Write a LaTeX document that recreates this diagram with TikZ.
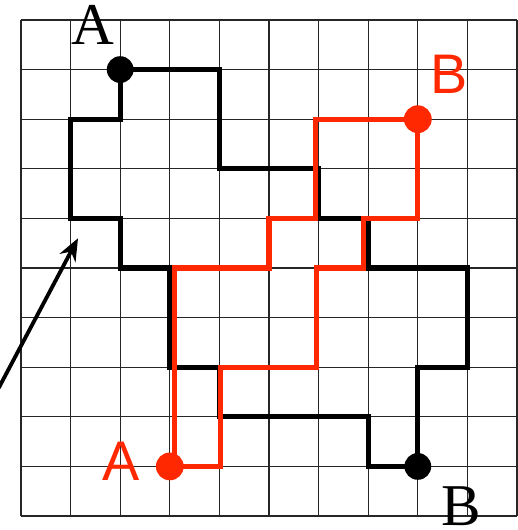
\documentclass[tikz,border=0pt]{standalone}
\usepackage{fontspec}
\setmainfont{Liberation Serif}
\newfontfamily\labsans{Liberation Sans}
\definecolor{pathred}{RGB}{255,40,0}
\usetikzlibrary{arrows.meta}
\tikzset{
  gridline/.style={draw=black!85, line width=0.7pt},
  blackloop/.style={draw=black, line width=2.9pt, line join=miter},
  redloop/.style={draw=pathred, line width=2.9pt, line join=miter},
  blackdot/.style={circle, fill=black, inner sep=0pt, minimum size=0.54cm},
  reddot/.style={circle, fill=pathred, inner sep=0pt, minimum size=0.56cm},
  serlabel/.style={font=\fontsize{34}{34}\selectfont, text=black, inner sep=0pt},
  sanslabel/.style={font=\labsans\fontsize{32}{32}\selectfont, text=pathred, inner sep=0pt},
  pointer/.style={draw=black, line width=2.2pt, -{Stealth[length=0.45cm, width=0.36cm]}}
}
\begin{document}
\begin{tikzpicture}[x=1cm,y=1cm]
\useasboundingbox (-0.423,-10.282) rectangle (10.0,0.403);
% grid
\foreach \i in {0,...,10} {
  \draw[gridline] (\i,0) -- (\i,-10);
  \draw[gridline] (0,-\i) -- (10,-\i);
}
% black loop
\draw[blackloop] (2,-1) -- (4,-1) -- (4,-3) -- (6,-3) -- (6,-4) -- (7,-4) -- (7,-5) -- (9,-5) -- (9,-7) -- (8,-7) -- (8,-9) -- (7,-9) -- (7,-8) -- (4,-8) -- (4,-7) -- (3,-7) -- (3,-5) -- (2,-5) -- (2,-4) -- (1,-4) -- (1,-2) -- (2,-2) -- cycle;
% red loop
\draw[redloop] (3.1,-9) -- (3.1,-5) -- (5,-5) -- (5,-4) -- (5.94,-4) -- (5.94,-2) -- (8,-2) -- (8,-4) -- (6.9,-4) -- (6.9,-5) -- (5.95,-5) -- (5.95,-7) -- (4.03,-7) -- (4.03,-9) -- cycle;
% end points
\node[blackdot] (bA) at (2,-1) {};
\node[blackdot] (bB) at (8,-9) {};
\node[reddot] (rA) at (3,-9) {};
\node[reddot] (rB) at (8,-2) {};
% labels
\node[serlabel] (lbA) at (1.44,-0.10) {A};
\node[serlabel] (lbB) at (8.87,-9.80) {B};
\node[sanslabel] (lrA) at (2.02,-8.89) {A};
\node[sanslabel] (lrB) at (8.63,-1.09) {B};
% arrow
\coordinate (tail) at (-0.45,-7.42);
\coordinate (tip) at (1.15,-4.40);
\draw[pointer] (tail) -- (tip);
\end{tikzpicture}
\end{document}
